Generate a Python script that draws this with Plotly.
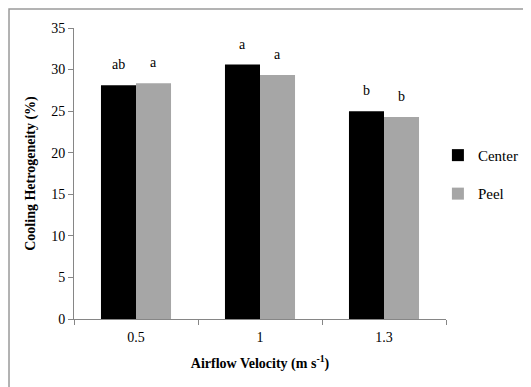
import plotly.graph_objects as go

categories = ["0.5", "1", "1.3"]
center_vals = [28.1, 30.6, 25.0]
peel_vals = [28.35, 29.35, 24.3]
center_letters = ["ab", "a", "b"]
peel_letters = ["a", "a", "b"]

FONT = "Times New Roman, Liberation Serif, serif"

fig = go.Figure()
fig.add_trace(go.Bar(name="Center", x=categories, y=center_vals, legendgroup="c",
                     marker=dict(color="black", line=dict(width=0))))
fig.add_trace(go.Bar(name="Peel", x=categories, y=peel_vals, legendgroup="p",
                     marker=dict(color="#a6a6a6", line=dict(width=0))))

annotations = []
for i, (v, t) in enumerate(zip(center_vals, center_letters)):
    annotations.append(dict(x=i, y=v, xref="x", yref="y", text=t, showarrow=False,
                            xshift=-17.5, yanchor="bottom", yshift=11,
                            font=dict(family=FONT, size=14, color="black")))
for i, (v, t) in enumerate(zip(peel_vals, peel_letters)):
    annotations.append(dict(x=i, y=v, xref="x", yref="y", text=t, showarrow=False,
                            xshift=17.5, yanchor="bottom", yshift=11,
                            font=dict(family=FONT, size=14, color="black")))

fig.update_layout(
    width=523, height=379,
    margin=dict(l=66, r=85, t=20, b=68, autoexpand=False),
    paper_bgcolor="white", plot_bgcolor="white",
    barmode="group", bargap=0.435, bargroupgap=0,
    font=dict(family=FONT, size=14, color="black"),
    showlegend=True,
    legend=dict(xref="container", yref="container", x=0.822, y=0.561,
                xanchor="left", yanchor="middle",
                font=dict(family=FONT, size=15), tracegroupgap=16,
                itemwidth=30, bgcolor="rgba(0,0,0,0)"),
    annotations=annotations,
    xaxis=dict(showline=True, linecolor="#868686", linewidth=1, automargin=False,
               ticks="outside", tickson="boundaries", ticklen=5, tickcolor="#868686",
               ticklabelstandoff=5,
               title=dict(text="<b>Airflow Velocity (m s<sup>-1</sup>)</b>",
                          font=dict(family=FONT, size=14), standoff=14),
               tickfont=dict(family=FONT, size=14)),
    yaxis=dict(range=[0, 35], dtick=5, showline=True, linecolor="#868686", linewidth=1,
               automargin=False,
               ticks="outside", ticklen=5, tickcolor="#868686", showgrid=False, zeroline=False,
               title=dict(text="<b>Cooling Hetrogeneity (%)</b>",
                          font=dict(family=FONT, size=14), standoff=12),
               tickfont=dict(family=FONT, size=14)),
    shapes=[dict(type="rect", xref="paper", yref="paper",
                 x0=-0.1747, x1=1.4, y0=-0.3, y1=1.065,
                 line=dict(color="#9a9a9a", width=1.5), layer="below")],
)

fig.write_html("out.html")
